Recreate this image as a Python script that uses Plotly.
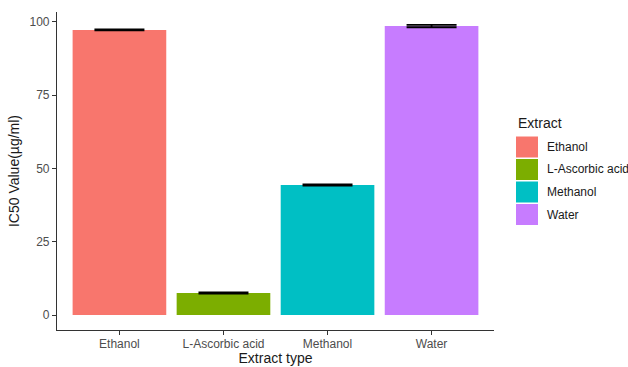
import plotly.graph_objects as go

# IC50 values per extract, with their error half-widths
extracts = ["Ethanol", "L-Ascorbic acid", "Methanol", "Water"]
ic50 = [97.3, 7.5, 44.4, 98.6]
ic50_err = [0.2, 0.2, 0.2, 0.4]
colors = ["#F8766D", "#7CAE00", "#00BFC4", "#C77CFF"]
y_ticks = [0, 25, 50, 75, 100]

W, H = 628, 367
ML, MR, MT, MB = 57, 134, 12, 37
PW, PH = W - ML - MR, H - MT - MB

fig = go.Figure()
for name, val, err, col in zip(extracts, ic50, ic50_err, colors):
    fig.add_trace(go.Bar(
        x=[name], y=[val], name=name, width=0.9,
        marker=dict(color=col, line=dict(width=0)),
        error_y=dict(type="data", array=[err], visible=True,
                     color="black", thickness=1.8, width=25),
        showlegend=False,
    ))

# legend drawn as filled keys beside the panel
def px_to_paper_x(px):
    return (px - ML) / PW

def px_to_paper_y(py):
    return 1 - (py - MT) / PH

shapes = []
annotations = [dict(text="Extract", x=px_to_paper_x(516), y=px_to_paper_y(123),
                    xref="paper", yref="paper", xanchor="left", yanchor="middle",
                    showarrow=False, font=dict(size=14, color="#1a1a1a"))]
key_top, key_step, key_w, key_h = 136.5, 22.5, 22, 21
for i, (name, col) in enumerate(zip(extracts, colors)):
    y0 = key_top + i * key_step
    shapes.append(dict(type="rect", xref="paper", yref="paper",
                       x0=px_to_paper_x(516), x1=px_to_paper_x(516 + key_w),
                       y0=px_to_paper_y(y0), y1=px_to_paper_y(y0 + key_h),
                       fillcolor=col, line=dict(width=0)))
    annotations.append(dict(text=name, x=px_to_paper_x(545), y=px_to_paper_y(y0 + key_h / 2),
                            xref="paper", yref="paper", xanchor="left", yanchor="middle",
                            showarrow=False, font=dict(size=12, color="#1a1a1a")))

fig.update_layout(
    width=W, height=H,
    margin=dict(l=ML, r=MR, t=MT, b=MB, autoexpand=False),
    paper_bgcolor="white", plot_bgcolor="white",
    barmode="overlay",
    font=dict(family="Liberation Sans, Arial, sans-serif"),
    shapes=shapes, annotations=annotations,
    xaxis=dict(
        type="category", range=[-0.6, 3.6], automargin=False,
        showline=True, linecolor="#333333", linewidth=1.2,
        ticks="outside", ticklen=4, tickcolor="#333333", tickwidth=1,
        ticklabelstandoff=-2,
        tickfont=dict(size=12, color="#4d4d4d"),
        title=dict(text="Extract type", font=dict(size=14, color="#1a1a1a"), standoff=2),
        showgrid=False, zeroline=False,
    ),
    yaxis=dict(
        range=[-5.1, 103.4], tickvals=y_ticks, automargin=False,
        showline=True, linecolor="#333333", linewidth=1.2,
        ticks="outside", ticklen=4, tickcolor="#333333", tickwidth=1,
        tickfont=dict(size=12, color="#4d4d4d"),
        title=dict(text="IC50 Value(µg/ml)", font=dict(size=14, color="#1a1a1a"), standoff=6),
        showgrid=False, zeroline=False,
    ),
)

fig.write_html("out.html")
